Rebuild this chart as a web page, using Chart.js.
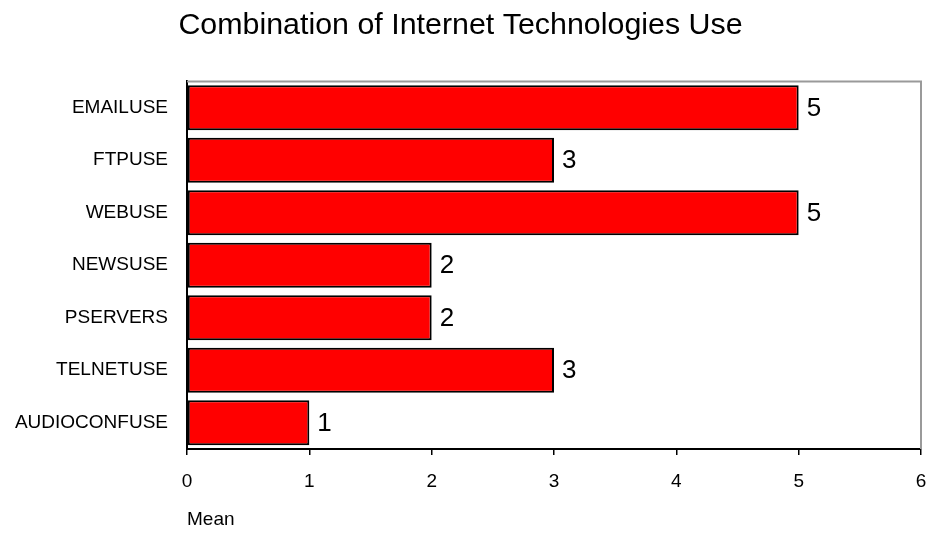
<!DOCTYPE html>
<html>
<head>
<meta charset="utf-8">
<script src="https://cdn.jsdelivr.net/npm/chart.js@4/dist/chart.umd.min.js"></script>
<style>
  html, body { margin: 0; padding: 0; background: #ffffff; }
  #wrap { width: 927px; height: 534px; }
</style>
</head>
<body>
<div id="wrap"><canvas id="c" width="927" height="534"></canvas></div>
<script>
// Mean usage per internet technology
const categories = ['EMAILUSE', 'FTPUSE', 'WEBUSE', 'NEWSUSE', 'PSERVERS', 'TELNETUSE', 'AUDIOCONFUSE'];
const meanValues = [5, 3, 5, 2, 2, 3, 1];
const xTicks = [0, 1, 2, 3, 4, 5, 6];

const FONT = '"Liberation Sans", Arial, sans-serif';

// Grey frame on the top and right of the plot area
const plotFrame = {
  id: 'plotFrame',
  beforeDatasetsDraw(chart) {
    const { ctx, chartArea: a } = chart;
    ctx.save();
    ctx.strokeStyle = '#9a9a9a';
    ctx.lineWidth = 2;
    ctx.beginPath();
    ctx.moveTo(a.left, a.top);
    ctx.lineTo(a.right, a.top);
    ctx.lineTo(a.right, a.bottom);
    ctx.stroke();
    ctx.restore();
  }
};

// Value printed just past the end of each bar
const barValues = {
  id: 'barValues',
  afterDatasetsDraw(chart) {
    const { ctx } = chart;
    const meta = chart.getDatasetMeta(0);
    ctx.save();
    ctx.font = '26px ' + FONT;
    ctx.fillStyle = '#000000';
    ctx.textAlign = 'left';
    ctx.textBaseline = 'middle';
    meta.data.forEach((bar, i) => {
      ctx.fillText(String(meanValues[i]), bar.x + 8, bar.y + 1);
    });
    ctx.restore();
  }
};

new Chart(document.getElementById('c'), {
  type: 'bar',
  data: {
    labels: categories,
    datasets: [{
      data: meanValues,
      backgroundColor: '#ff0000',
      borderColor: '#000000',
      borderWidth: 2,
      borderSkipped: false,
      barPercentage: 0.856,
      categoryPercentage: 1.0
    }]
  },
  options: {
    indexAxis: 'y',
    responsive: false,
    animation: false,
    devicePixelRatio: 1,
    layout: { padding: { left: 0, right: 6, top: 0, bottom: 0 } },
    plugins: {
      legend: { display: false },
      tooltip: { enabled: false },
      title: {
        display: true,
        text: 'Combination of Internet Technologies Use',
        color: '#000000',
        font: { family: FONT, size: 30.4, weight: 'normal' },
        padding: { top: 7, bottom: 38 }
      }
    },
    scales: {
      x: {
        type: 'linear',
        min: xTicks[0],
        max: xTicks[xTicks.length - 1],
        afterBuildTicks(scale) {
          scale.ticks = xTicks.map(v => ({ value: v }));
        },
        afterFit(scale) {
          scale.height = 85;
          scale.paddingLeft = 0;
          scale.paddingRight = 0;
        },
        border: { display: true, color: '#000000', width: 2 },
        grid: {
          display: true,
          drawOnChartArea: false,
          drawTicks: true,
          tickLength: 6,
          color: '#000000',
          lineWidth: 1.5
        },
        ticks: {
          color: '#000000',
          padding: 15,
          font: { family: FONT, size: 19 },
          maxRotation: 0
        },
        title: {
          display: true,
          text: 'Mean',
          align: 'start',
          color: '#000000',
          font: { family: FONT, size: 19 },
          padding: { top: 3, bottom: 3 }
        }
      },
      y: {
        afterFit(scale) { scale.width = 187; },
        border: { display: true, color: '#000000', width: 2 },
        grid: { display: false, drawTicks: false },
        ticks: {
          color: '#000000',
          padding: 19,
          autoSkip: false,
          font: { family: FONT, size: 19 }
        }
      }
    }
  },
  plugins: [plotFrame, barValues]
});
</script>
</body>
</html>
